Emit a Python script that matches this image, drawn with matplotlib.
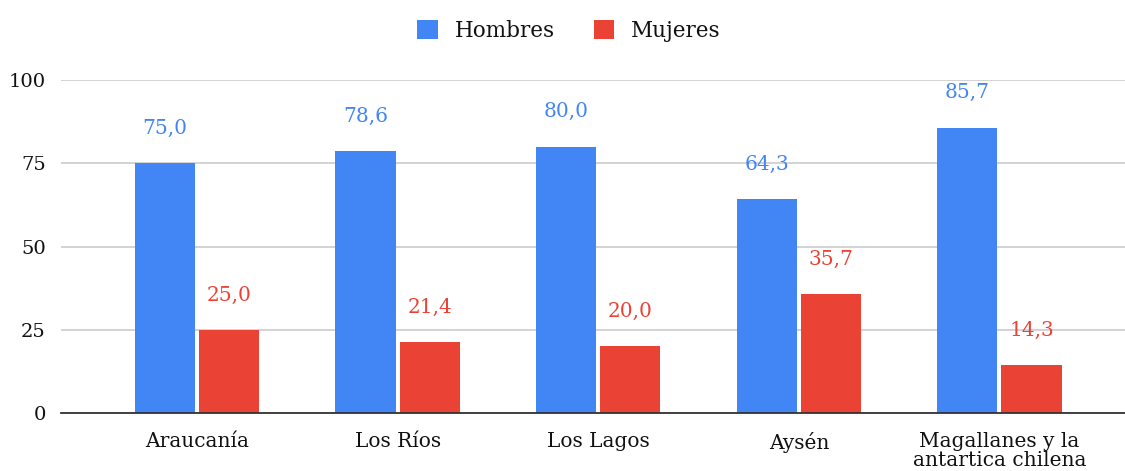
import matplotlib.pyplot as plt
from matplotlib.patches import Patch
import numpy as np

# Data
regiones = ['Araucanía', 'Los Ríos', 'Los Lagos', 'Aysén', 'Magallanes y la\nantartica chilena']
hombres = [75.0, 78.6, 80.0, 64.3, 85.7]
mujeres = [25.0, 21.4, 20.0, 35.7, 14.3]
y_ticks = [0, 25, 50, 75, 100]

BLUE = '#4285F4'
RED = '#EA4335'

plt.rcParams['font.family'] = ['DejaVu Serif']

fig = plt.figure(figsize=(11.25, 4.71), dpi=100)
ax = fig.add_axes([61 / 1125, 1 - 413 / 471, 1 - 61 / 1125, (413 - 80) / 471])

x = np.arange(len(regiones))
w = 0.30
gap = 0.01
b1 = ax.bar(x - w / 2 - gap, hombres, w, color=BLUE, zorder=3)
b2 = ax.bar(x + w / 2 + gap, mujeres, w, color=RED, zorder=3)

# Value labels above bars
for bars, vals, c in [(b1, hombres, BLUE), (b2, mujeres, RED)]:
    for rect, v in zip(bars, vals):
        ax.annotate(f'{v:.1f}'.replace('.', ','),
                    (rect.get_x() + rect.get_width() / 2, v),
                    xytext=(0, 25), textcoords='offset points',
                    ha='center', va='center', color=c, fontsize=14.5,
                    annotation_clip=False)

ax.set_xlim(-0.678, 4.626)
ax.set_ylim(0, 100)
ax.set_yticks(y_ticks)
ax.set_yticklabels([str(t) for t in y_ticks], fontsize=14)
ax.set_xticks(x)
ax.set_xticklabels(regiones, fontsize=14.5, linespacing=0.95)
ax.tick_params(axis='both', length=0, colors='#111111')
ax.tick_params(axis='y', pad=11)
ax.tick_params(axis='x', pad=14)

ax.grid(axis='y', color='#cccccc', linewidth=1.2, zorder=0)
for s in ['top', 'right', 'left']:
    ax.spines[s].set_visible(False)
ax.spines['bottom'].set_color('#333333')
ax.spines['bottom'].set_linewidth(1.3)
ax.spines['bottom'].set_zorder(4)

handles = [Patch(facecolor=BLUE, label='Hombres'), Patch(facecolor=RED, label='Mujeres')]
fig.legend(handles=handles, loc='center', bbox_to_anchor=(569 / 1125, 1 - 31 / 471),
           ncol=2, frameon=False, fontsize=15.5, handlelength=0.95, handleheight=0.95,
           columnspacing=1.8, handletextpad=0.8, labelcolor='#111111')

fig.savefig('out.png', dpi=100)
